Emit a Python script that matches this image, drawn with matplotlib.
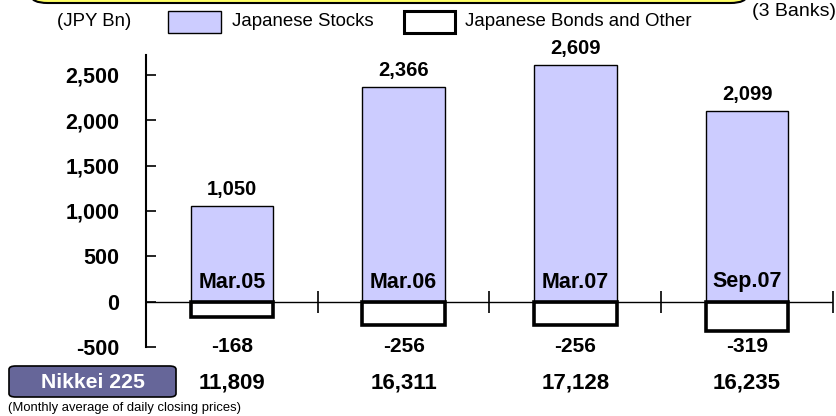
import matplotlib.pyplot as plt
import matplotlib.transforms as mtransforms
from matplotlib.patches import FancyBboxPatch, Rectangle

plt.rcParams['font.family'] = ['Liberation Sans', 'DejaVu Sans']

# Unrealized gains on securities, 3 banks (JPY Bn)
periods = ["Mar.05", "Mar.06", "Mar.07", "Sep.07"]
stocks = [1050, 2366, 2609, 2099]
bonds_other = [-168, -256, -256, -319]
nikkei = [11809, 16311, 17128, 16235]
yticks = [-500, 0, 500, 1000, 1500, 2000, 2500]

W, H = 837, 416
fig = plt.figure(figsize=(W / 100, H / 100), dpi=100)

def fx(px):
    return px / W

def fy(py):
    return 1 - py / H

ax = fig.add_axes([fx(146), fy(347), fx(833 - 146), fy(55) - fy(347)])
ax.set_xlim(-0.5, 3.5)
ax.set_ylim(-500, 2720)

x = range(len(periods))
bw = 0.48
ax.bar(x, stocks, width=bw, color='#CCCCFF', edgecolor='black', linewidth=1, zorder=2)
ax.bar(x, bonds_other, width=bw, color='white', edgecolor='black', linewidth=2.6, zorder=2)

# zero line with category separators
ax.axhline(0, color='black', linewidth=1, zorder=3)
ax.plot([0.5, 1.5, 2.5, 3.5], [0] * 4, ls='none', marker='|', ms=16, mew=1.2,
        color='black', clip_on=False, zorder=3)

for s in ['top', 'right', 'bottom']:
    ax.spines[s].set_visible(False)
ax.spines['left'].set_linewidth(1.5)
ax.set_xticks([])
ax.set_yticks(yticks)
ax.set_yticklabels([f"{v:,}" for v in yticks], fontsize=15.5, fontweight='bold')
ax.tick_params(axis='y', direction='in', length=7, width=1.2, pad=19)

tr = mtransforms.blended_transform_factory(ax.transData, fig.transFigure)
for i in x:
    ax.annotate(f"{stocks[i]:,}", (i, stocks[i]), xytext=(0, 5), textcoords='offset points',
                ha='center', va='bottom', fontsize=14.5, fontweight='bold')
    ax.text(i, fy(282), periods[i], transform=tr, ha='center', va='center',
            fontsize=15.5, fontweight='bold', zorder=4)
    ax.text(i, fy(347), f"{bonds_other[i]:,}", transform=tr, ha='center', va='center',
            fontsize=15, fontweight='bold')
    ax.text(i, fy(383), f"{nikkei[i]:,}", transform=tr, ha='center', va='center',
            fontsize=16, fontweight='bold')

# header strip
fig.patches.append(FancyBboxPatch((fx(31), fy(3)), fx(747 - 31), 0.05,
                                  boxstyle='round,pad=0,rounding_size=0.02',
                                  facecolor='#FFFF66', edgecolor='black', linewidth=1.5,
                                  transform=fig.transFigure, figure=fig))

# legend
fig.text(fx(94), fy(22), "(JPY Bn)", ha='center', va='center', fontsize=13.4)
fig.patches.append(Rectangle((fx(168), fy(33)), fx(53), fy(11) - fy(33), facecolor='#CCCCFF',
                             edgecolor='black', linewidth=1, transform=fig.transFigure, figure=fig))
fig.text(fx(232), fy(22), "Japanese Stocks", ha='left', va='center', fontsize=13.4)
fig.patches.append(Rectangle((fx(404), fy(33)), fx(51), fy(11) - fy(33), facecolor='white',
                             edgecolor='black', linewidth=2.2, transform=fig.transFigure, figure=fig))
fig.text(fx(465), fy(22), "Japanese Bonds and Other", ha='left', va='center', fontsize=13.4)
fig.text(fx(836), fy(11), "(3 Banks)", ha='right', va='center', fontsize=14)

# Nikkei label box
fig.patches.append(FancyBboxPatch((fx(9), fy(397)), fx(167), fy(366) - fy(397),
                                  boxstyle='round,pad=0,rounding_size=0.008',
                                  facecolor='#666699', edgecolor='black', linewidth=1.2,
                                  transform=fig.transFigure, figure=fig))
fig.text(fx(93), fy(382), "Nikkei 225", ha='center', va='center', fontsize=15.3,
         fontweight='bold', color='white')
fig.text(fx(8), fy(408), "(Monthly average of daily closing prices)", ha='left', va='center',
         fontsize=9.4)

fig.savefig('out.png', dpi=100)
